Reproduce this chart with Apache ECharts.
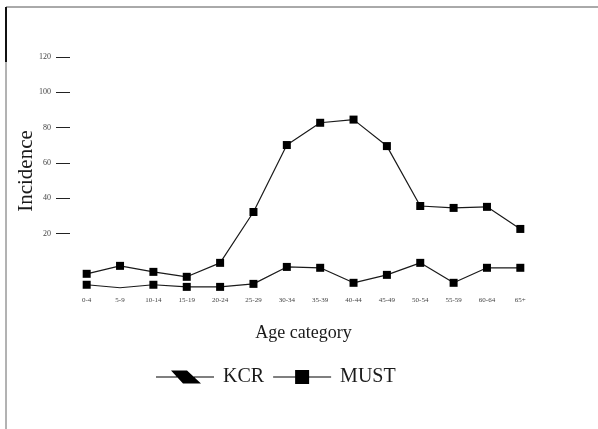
<!DOCTYPE html>
<html>
<head>
<meta charset="utf-8">
<script src="https://cdn.jsdelivr.net/npm/echarts@6/dist/echarts.min.js"></script>
<style>
html,body{margin:0;padding:0;background:#fff;}
#c{width:598px;height:429px;}
</style>
</head>
<body>
<div id="c"></div>
<script>
var categories = ['0-4','5-9','10-14','15-19','20-24','25-29','30-34','35-39','40-44','45-49','50-54','55-59','60-64','65+'];
var kcrValues = [-8.9, -10.6, -8.9, -10.1, -10.1, -8.4, 1.2, 0.7, -7.8, -3.3, 3.5, -7.8, 0.7, 0.7];
var mustValues = [-2.7, 1.8, -1.6, -4.4, 3.5, 32.3, 70.2, 82.8, 84.6, 69.6, 35.7, 34.6, 35.2, 22.7];
var yTickValues = [20, 40, 60, 80, 100, 120];

var FONT = 'Liberation Serif';
var INK = '#1a1a1a';
var kcrLegendIcon = 'path://M0,6.6 L58,6.6 L58,7.4 L0,7.4 Z M15,0.5 L31,0.5 L45,13.5 L27,13.5 Z';
var mustLegendIcon = 'path://M0,6.6 L58,6.6 L58,7.4 L0,7.4 Z M22,0 L36,0 L36,14 L22,14 Z';

var chart = echarts.init(document.getElementById('c'), null, {renderer: 'canvas'});
chart.setOption({
  backgroundColor: '#fff',
  animation: false,
  grid: {left: 70, right: 61, top: 50, bottom: 137, containLabel: false},
  legend: {
    left: 151, top: 362,
    itemWidth: 58, itemHeight: 14, itemGap: 9,
    symbolKeepAspect: true,
    textStyle: {fontFamily: FONT, fontSize: 20, color: INK, padding: [0, 0, 0, 4]},
    data: [
      {name: 'KCR', icon: kcrLegendIcon},
      {name: 'MUST', icon: mustLegendIcon}
    ]
  },
  xAxis: {
    type: 'category',
    data: categories,
    boundaryGap: true,
    name: 'Age category',
    nameLocation: 'middle',
    nameGap: 32,
    nameTextStyle: {fontFamily: FONT, fontSize: 18, color: INK},
    axisLine: {show: false},
    axisTick: {show: false},
    axisLabel: {fontFamily: FONT, fontSize: 7, color: '#444', margin: 5, interval: 0}
  },
  yAxis: {
    type: 'value',
    min: -13, max: 124,
    name: 'Incidence',
    nameLocation: 'middle',
    nameGap: 33,
    nameRotate: 90,
    nameMoveOverlap: false,
    nameTextStyle: {fontFamily: FONT, fontSize: 21, color: INK},
    axisLine: {show: false},
    splitLine: {show: false},
    axisTick: {show: true, length: 14, customValues: yTickValues, lineStyle: {color: '#222', width: 1}},
    axisLabel: {customValues: yTickValues, fontFamily: FONT, fontSize: 8, color: '#444', margin: 19}
  },
  series: [
    {
      name: 'KCR',
      type: 'line',
      symbol: 'rect',
      symbolSize: 8,
      data: kcrValues.map(function (v, i) { return {value: v, symbol: i === 1 ? 'none' : 'rect'}; }),
      lineStyle: {color: INK, width: 1.2},
      itemStyle: {color: '#000'}
    },
    {
      name: 'MUST',
      type: 'line',
      symbol: 'rect',
      symbolSize: 8,
      data: mustValues,
      lineStyle: {color: INK, width: 1.2},
      itemStyle: {color: '#000'}
    }
  ],
  graphic: [
    {type: 'line', shape: {x1: 6, y1: 7, x2: 598, y2: 7}, style: {stroke: '#555', lineWidth: 1}},
    {type: 'line', shape: {x1: 6, y1: 7, x2: 6, y2: 429}, style: {stroke: '#666', lineWidth: 1}},
    {type: 'line', shape: {x1: 6, y1: 7, x2: 6, y2: 62}, style: {stroke: '#111', lineWidth: 2}}
  ]
});
</script>
</body>
</html>
